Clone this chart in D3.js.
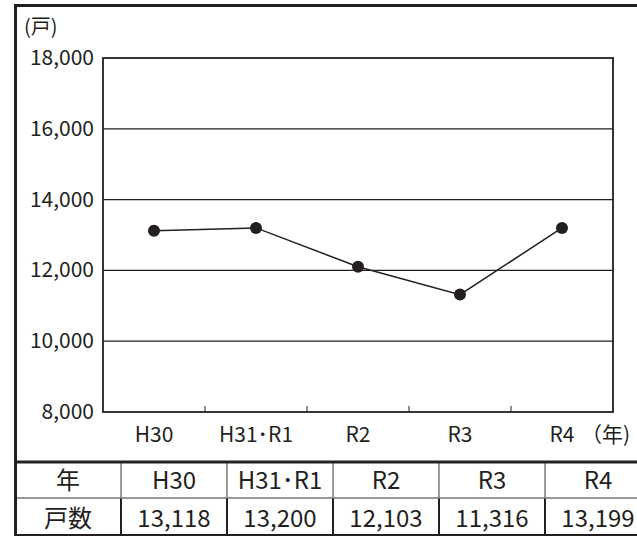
<!DOCTYPE html>
<html>
<head>
<meta charset="utf-8">
<script src="https://cdn.jsdelivr.net/npm/d3@7"></script>
<style>
  body { margin: 0; background: #fff; }
  svg text { font-family: "Noto Sans CJK JP", "Open Sans", sans-serif; fill: #231f20; }
</style>
</head>
<body>
<div id="chart"></div>
<script>
var years = ['H30', 'H31･R1', 'R2', 'R3', 'R4'];
var households = [13118, 13200, 12103, 11316, 13199];
var yTicks = [8000, 10000, 12000, 14000, 16000, 18000];
var rowLabels = ['年', '戸数'];

var width = 637, height = 536;
var fmt = d3.format(',');

var svg = d3.select('#chart').append('svg')
    .attr('width', width)
    .attr('height', height);

// plot area
var plot = {left: 103, right: 613, top: 58, bottom: 412};

var x = d3.scaleBand()
    .domain(years)
    .range([plot.left, plot.right]);

var y = d3.scaleLinear()
    .domain([8000, 18000])
    .range([plot.bottom, plot.top]);

// gridlines
svg.append('g').selectAll('line')
    .data(yTicks.slice(1, -1))
    .enter().append('line')
    .attr('x1', plot.left).attr('x2', plot.right)
    .attr('y1', d => y(d)).attr('y2', d => y(d))
    .attr('stroke', '#231f20')
    .attr('stroke-width', 1.3);

// plot frame
svg.append('rect')
    .attr('x', plot.left).attr('y', plot.top)
    .attr('width', plot.right - plot.left)
    .attr('height', plot.bottom - plot.top)
    .attr('fill', 'none')
    .attr('stroke', '#231f20')
    .attr('stroke-width', 1.8);

// small ticks between categories (pointing up)
svg.append('g').selectAll('line')
    .data(years.slice(1))
    .enter().append('line')
    .attr('x1', d => x(d)).attr('x2', d => x(d))
    .attr('y1', plot.bottom).attr('y2', plot.bottom - 6)
    .attr('stroke', '#231f20')
    .attr('stroke-width', 1);

// y labels
svg.append('g').selectAll('text')
    .data(yTicks)
    .enter().append('text')
    .attr('x', 94)
    .attr('y', d => y(d) + 7)
    .attr('text-anchor', 'end')
    .style('font-size', '21px')
    .text(d => fmt(d));

svg.append('text')
    .attr('x', 24).attr('y', 34)
    .style('font-size', '20px')
    .text('(戸)');

// x labels
svg.append('g').selectAll('text')
    .data(years)
    .enter().append('text')
    .attr('x', d => x(d) + x.bandwidth() / 2)
    .attr('y', 442)
    .attr('text-anchor', 'middle')
    .style('font-size', '21px')
    .text(d => d);

svg.append('text')
    .attr('x', 581).attr('y', 442)
    .style('font-size', '21px')
    .text('（年)');

// line + markers
var line = d3.line()
    .x((d, i) => x(years[i]) + x.bandwidth() / 2)
    .y(d => y(d));

svg.append('path')
    .datum(households)
    .attr('d', line)
    .attr('fill', 'none')
    .attr('stroke', '#231f20')
    .attr('stroke-width', 1.5);

svg.append('g').selectAll('circle')
    .data(households)
    .enter().append('circle')
    .attr('cx', (d, i) => x(years[i]) + x.bandwidth() / 2)
    .attr('cy', d => y(d))
    .attr('r', 6)
    .attr('fill', '#231f20');

// table below
var colW = 106, tableLeft = 15;
var rowTop = [462, 498], rowBottom = 535;

var tbl = svg.append('g');
var cols = d3.range(1, years.length + 1);

// header row dividers are lighter than the value row ones
tbl.selectAll('.vtop')
    .data(cols)
    .enter().append('line')
    .attr('x1', d => tableLeft + d * colW).attr('x2', d => tableLeft + d * colW)
    .attr('y1', rowTop[0]).attr('y2', rowTop[1])
    .attr('stroke', '#666')
    .attr('stroke-width', 1.3);

tbl.selectAll('.vbot')
    .data(cols)
    .enter().append('line')
    .attr('x1', d => tableLeft + d * colW).attr('x2', d => tableLeft + d * colW)
    .attr('y1', rowTop[1]).attr('y2', rowBottom)
    .attr('stroke', '#231f20')
    .attr('stroke-width', 2);

tbl.append('line')
    .attr('x1', tableLeft).attr('x2', width)
    .attr('y1', rowTop[1]).attr('y2', rowTop[1])
    .attr('stroke', '#777')
    .attr('stroke-width', 1.3);

tbl.append('line')
    .attr('x1', tableLeft).attr('x2', width)
    .attr('y1', rowBottom).attr('y2', rowBottom)
    .attr('stroke', '#231f20')
    .attr('stroke-width', 2);

tbl.append('line')
    .attr('x1', tableLeft).attr('x2', width)
    .attr('y1', rowTop[0]).attr('y2', rowTop[0])
    .attr('stroke', '#231f20')
    .attr('stroke-width', 3);

var rows = [years, households.map(fmt)];
rows.forEach(function (r, ri) {
    var cy = ri === 0 ? 489 : 527;
    tbl.append('text')
        .attr('x', tableLeft + colW / 2).attr('y', cy)
        .attr('text-anchor', 'middle')
        .style('font-size', '24px')
        .text(rowLabels[ri]);
    tbl.selectAll('.c' + ri)
        .data(r)
        .enter().append('text')
        .attr('x', (d, i) => tableLeft + (i + 1.5) * colW)
        .attr('y', cy)
        .attr('text-anchor', 'middle')
        .style('font-size', '24px')
        .text(d => d);
});

// outer frame (top and left)
svg.append('line')
    .attr('x1', 14).attr('x2', width)
    .attr('y1', 5.5).attr('y2', 5.5)
    .attr('stroke', '#231f20').attr('stroke-width', 3);
svg.append('line')
    .attr('x1', 15.5).attr('x2', 15.5)
    .attr('y1', 4).attr('y2', 536)
    .attr('stroke', '#231f20').attr('stroke-width', 3);
</script>
</body>
</html>
